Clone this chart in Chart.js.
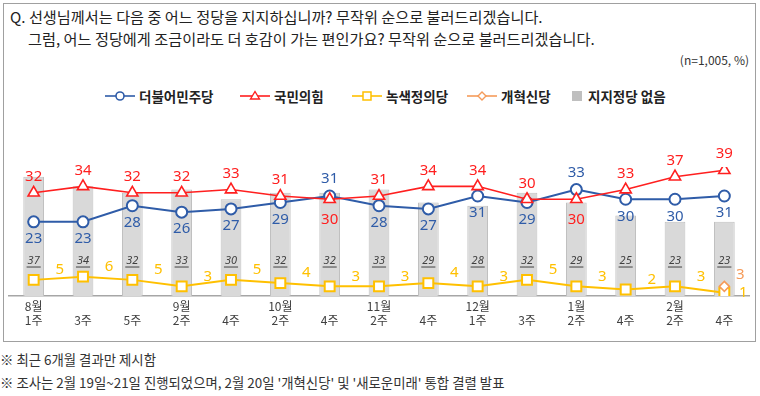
<!DOCTYPE html>
<html>
<head>
<meta charset="utf-8">
<script src="https://cdn.jsdelivr.net/npm/chart.js@4.4.1/dist/chart.umd.min.js"></script>
<style>
  html, body { margin:0; padding:0; background:#fff; }
  body { width:760px; height:396px; position:relative; overflow:hidden; font-family:"Noto Sans CJK KR", "Noto Sans", sans-serif; color:#222; }
  #box { position:absolute; left:3px; top:3px; width:753px; height:339px; border:1px solid #A0A0A0; box-sizing:border-box; }
  .t { position:absolute; white-space:nowrap; }
  #q1 { left:10px; top:5px; font-size:15.2px; }
  #q2 { left:28px; top:27px; font-size:15.2px; }
  #n { right:11px; top:51px; font-size:12px; color:#333; }
  .leg { position:absolute; top:87px; height:18px; display:flex; align-items:center; font-size:13.5px; font-weight:bold; color:#222; }
  .leg svg { margin-right:4px; }
  #f1 { left:0px; top:349px; font-size:13.4px; color:#333; }
  #f2 { left:0px; top:372px; font-size:13.4px; color:#333; }
  #wrap { position:absolute; left:0; top:120px; width:760px; height:220px; }
</style>
</head>
<body>
<div id="box"></div>
<div class="t" id="q1">Q. 선생님께서는 다음 중 어느 정당을 지지하십니까? 무작위 순으로 불러드리겠습니다.</div>
<div class="t" id="q2">그럼, 어느 정당에게 조금이라도 더 호감이 가는 편인가요? 무작위 순으로 불러드리겠습니다.</div>
<div class="t" id="n">(n=1,005, %)</div>
<div id="legend"></div>
<div id="wrap"><canvas id="c" width="760" height="220"></canvas></div>
<div class="t" id="f1">※ 최근 6개월 결과만 제시함</div>
<div class="t" id="f2">※ 조사는 2월 19일~21일 진행되었으며, 2월 20일 '개혁신당' 및 '새로운미래' 통합 결렬 발표</div>
<script>
// ---- data ----
const categories = [["8월","1주"],["","3주"],["","5주"],["9월","2주"],["","4주"],["10월","2주"],["","4주"],["11월","2주"],["","4주"],["12월","1주"],["","3주"],["1월","2주"],["","4주"],["2월","2주"],["","4주"]];
const seriesNames = ["더불어민주당","국민의힘","녹색정의당","개혁신당","지지정당 없음"];
const democratic = [23,23,28,26,27,29,31,28,27,31,29,33,30,30,31];
const peoplePower = [32,34,32,32,33,31,30,31,34,34,30,30,33,37,39];
const greenJustice = [5,6,5,3,5,4,3,3,4,3,5,3,2,3,1];
const reformParty = [null,null,null,null,null,null,null,null,null,null,null,null,null,null,3];
const noParty = [37,34,32,33,30,32,32,33,29,28,32,29,25,23,23];
// label placement (above / below the marker)
const demLabelSide = ["b","b","b","b","b","b","a","b","b","b","b","a","b","b","b"];
const pppLabelSide = ["a","a","a","a","a","a","b","a","a","a","a","b","a","a","a"];

const colors = { dem:"#2F5CA8", ppp:"#FF1F1F", green:"#FFC000", reform:"#F59B5A", none:"#D9D9D9", noneBorder:"#C0C0C0" };

// ---- legend (HTML) ----
const legendDefs = [
  {name:seriesNames[0], left:105, color:colors.dem, marker:'circle'},
  {name:seriesNames[1], left:240, color:colors.ppp, marker:'tri'},
  {name:seriesNames[2], left:352, color:colors.green, marker:'rect'},
  {name:seriesNames[3], left:467, color:colors.reform, marker:'diamond'},
  {name:seriesNames[4], left:570, color:'#BFBFBF', marker:'box'}
];
const legend = document.getElementById('legend');
legendDefs.forEach(d => {
  const el = document.createElement('div');
  el.className = 'leg';
  el.style.left = d.left + 'px';
  let svg;
  if (d.marker === 'box') {
    svg = `<svg width="14" height="14"><rect x="2" y="2" width="10" height="10" fill="#BFBFBF"/></svg>`;
  } else {
    let m = '';
    if (d.marker === 'circle') m = `<circle cx="15" cy="7" r="4" fill="#fff" stroke="${d.color}" stroke-width="1.6"/>`;
    if (d.marker === 'tri') m = `<polygon points="15,2.5 19.5,10 10.5,10" fill="#fff" stroke="${d.color}" stroke-width="1.4"/>`;
    if (d.marker === 'rect') m = `<rect x="11" y="3" width="8" height="8" fill="#fff" stroke="${d.color}" stroke-width="1.5"/>`;
    if (d.marker === 'diamond') m = `<polygon points="15,3 19,7 15,11 11,7" fill="#fff" stroke="${d.color}" stroke-width="1.4"/>`;
    svg = `<svg width="30" height="14"><line x1="0" y1="7" x2="30" y2="7" stroke="${d.color}" stroke-width="1.6"/>${m}</svg>`;
  }
  el.innerHTML = svg + '<span>' + d.name + '</span>';
  legend.appendChild(el);
});

// ---- labels plugin ----
const labelPlugin = {
  id: 'valueLabels',
  afterDatasetsDraw(chart) {
    const ctx = chart.ctx;
    ctx.save();
    ctx.textAlign = 'center';
    ctx.textBaseline = 'middle';
    const y = chart.scales.y;
    // bar labels (italic, underlined)
    const barMeta = chart.getDatasetMeta(4);
    ctx.font = 'italic 11px "Noto Sans", "DejaVu Sans", sans-serif';
    ctx.fillStyle = '#404040';
    ctx.strokeStyle = '#404040';
    ctx.lineWidth = 1;
    barMeta.data.forEach((bar, i) => {
      const ly = y.getPixelForValue(11);
      const txt = String(noParty[i]);
      ctx.fillText(txt, bar.x, ly);
      const w = ctx.measureText(txt).width;
      ctx.beginPath();
      ctx.moveTo(bar.x - w/2 - 1, ly + 6.5);
      ctx.lineTo(bar.x + w/2 + 1, ly + 6.5);
      ctx.stroke();
    });
    ctx.font = '15px "Noto Sans", "DejaVu Sans", sans-serif';
    chart.getDatasetMeta(0).data.forEach((p, i) => {
      ctx.fillStyle = colors.dem;
      ctx.fillText(String(democratic[i]), p.x, p.y + (demLabelSide[i] === 'a' ? -17 : 17));
    });
    chart.getDatasetMeta(1).data.forEach((p, i) => {
      ctx.fillStyle = colors.ppp;
      ctx.fillText(String(peoplePower[i]), p.x, p.y + (pppLabelSide[i] === 'a' ? -16 : 20));
    });
    chart.getDatasetMeta(2).data.forEach((p, i) => {
      ctx.fillStyle = colors.green;
      const last = i === greenJustice.length - 1;
      ctx.fillText(String(greenJustice[i]), p.x + (last ? 19 : 26), p.y + (last ? 0 : -10));
    });
    chart.getDatasetMeta(3).data.forEach((p, i) => {
      if (reformParty[i] == null) return;
      ctx.fillStyle = colors.reform;
      ctx.fillText(String(reformParty[i]), p.x + 16, p.y - 12);
    });
    ctx.restore();
  }
};

new Chart(document.getElementById('c'), {
  data: {
    labels: categories,
    datasets: [
      { type:'line', label:seriesNames[0], data:democratic, borderColor:colors.dem, borderWidth:2, pointStyle:'circle', pointRadius:5.5, pointBorderWidth:2, pointBackgroundColor:'#fff', pointBorderColor:colors.dem, order:2 },
      { type:'line', label:seriesNames[1], data:peoplePower, borderColor:colors.ppp, borderWidth:1.6, pointStyle:'triangle', pointRadius:6.5, pointBorderWidth:1.6, pointBackgroundColor:'#fff', pointBorderColor:colors.ppp, order:1 },
      { type:'line', label:seriesNames[2], data:greenJustice, borderColor:colors.green, borderWidth:2, pointStyle:'rect', pointRadius:7, pointBorderWidth:2, pointBackgroundColor:'#fff', pointBorderColor:colors.green, order:3 },
      { type:'line', label:seriesNames[3], data:reformParty, borderColor:colors.reform, borderWidth:1.6, pointStyle:'rectRot', pointRadius:5, pointBorderWidth:1.6, pointBackgroundColor:'#fff', pointBorderColor:colors.reform, order:0 },
      { type:'bar', label:seriesNames[4], data:noParty, backgroundColor:colors.none, borderColor:colors.noneBorder, borderWidth:1, barPercentage:0.42, categoryPercentage:1, order:10 }
    ]
  },
  options: {
    responsive:false,
    animation:false,
    events:[],
    layout:{ padding:{ left:7, right:11, top:47, bottom:0 } },
    plugins:{ legend:{ display:false }, tooltip:{ enabled:false } },
    scales:{
      x:{
        grid:{ display:false, drawTicks:false },
        border:{ display:true, color:'#A6A6A6', width:1.5 },
        ticks:{ color:'#404040', font:{ size:12, family:'"Noto Sans CJK KR", sans-serif', lineHeight:1.2 }, padding:3, maxRotation:0, autoSkip:false },
        afterFit(s){ s.height = 44; }
      },
      y:{ display:false, min:0, max:40 }
    }
  },
  plugins:[labelPlugin]
});
</script>
</body>
</html>
